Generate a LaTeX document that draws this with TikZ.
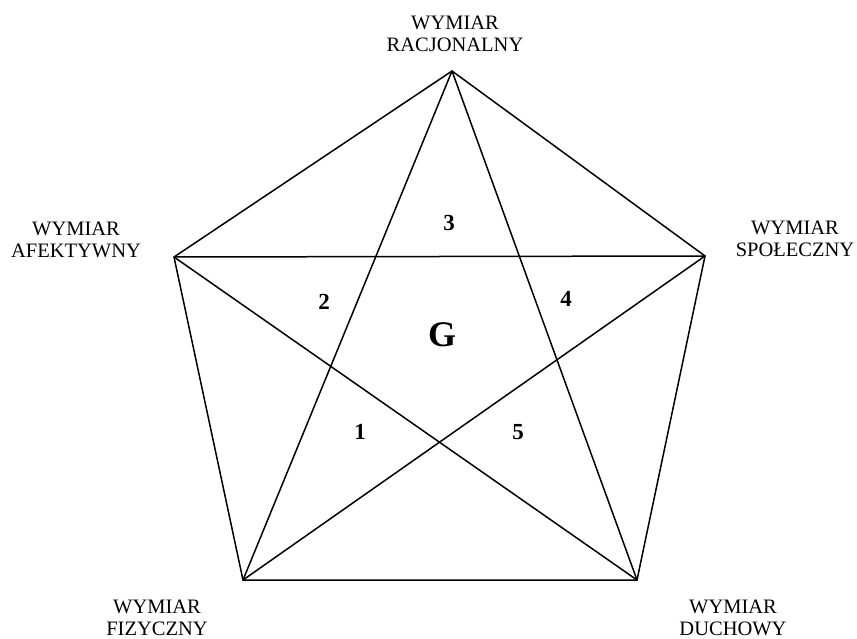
\documentclass[tikz,border=0pt]{standalone}
\usepackage{fontspec}
\setmainfont{Liberation Serif}
\begin{document}
\begin{tikzpicture}[x=1pt,y=-1pt,
  edge/.style={line width=1.5pt, line join=miter},
  dimlabel/.style={align=center, font=\fontsize{20.5}{22}\selectfont, inner sep=0pt},
  num/.style={font=\fontsize{23}{23}\bfseries\selectfont, inner sep=0pt},
  big/.style={font=\fontsize{36}{36}\bfseries\selectfont, inner sep=0pt}]
\useasboundingbox (0,0) rectangle (857,639);
\coordinate (T) at (452,71);
\coordinate (L) at (174,257);
\coordinate (R) at (705,256);
\coordinate (BL) at (243,580);
\coordinate (BR) at (637,580);
% pentagon
\draw[edge] (T) -- (R) -- (BR) -- (BL) -- (L) -- cycle;
% star
\draw[edge] (T) -- (BL);
\draw[edge] (T) -- (BR);
\draw[edge] (L) -- (R);
\draw[edge] (L) -- (BR);
\draw[edge] (R) -- (BL);
% labels
\node[dimlabel] (lt) at (455,34) {WYMIAR\\RACJONALNY};
\node[dimlabel] (ll) at (76,240) {WYMIAR\\AFEKTYWNY};
\node[dimlabel] (lr) at (795,239) {WYMIAR\\SPOŁECZNY};
\node[dimlabel] (lbl) at (157,618) {WYMIAR\\FIZYCZNY};
\node[dimlabel] (lbr) at (733,618) {WYMIAR\\DUCHOWY};
% numbers
\node[num] (n3) at (449,223) {3};
\node[num] (n2) at (324,302) {2};
\node[num] (n4) at (566,299) {4};
\node[num] (n1) at (360,432) {1};
\node[num] (n5) at (518,432) {5};
\node[big] (g) at (442,335) {G};
\end{tikzpicture}
\end{document}
